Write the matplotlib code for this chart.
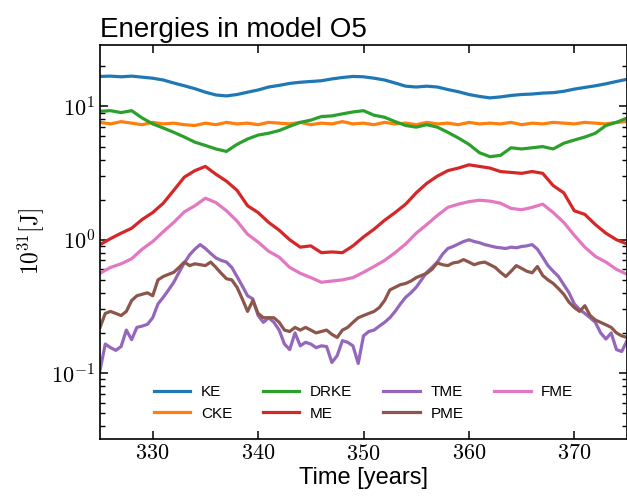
import numpy as np
import matplotlib
matplotlib.use("Agg")
import matplotlib.pyplot as plt

# Data (units of 1e31 J)
#-------------------------------------------
years = np.arange(325, 376, 1.0)
years_fine = np.arange(325, 375.5, 0.5)

ke = [16.8, 16.9, 16.7, 16.9, 16.6, 16.3, 15.8, 15.0, 14.3, 13.6,
      12.8, 12.2, 12.0, 12.3, 12.8, 13.3, 14.0, 14.4, 14.9, 15.2,
      15.4, 15.6, 16.1, 16.5, 16.8, 16.7, 16.3, 15.8, 15.0, 14.2,
      14.0, 14.2, 14.0, 13.4, 12.9, 12.3, 11.9, 11.6, 11.8, 12.1,
      12.3, 12.4, 12.6, 12.7, 13.0, 13.5, 13.9, 14.3, 14.8, 15.4,
      16.0]

cke = [7.6, 7.4, 7.7, 7.5, 7.3, 7.6, 7.4, 7.5, 7.3, 7.2,
       7.5, 7.3, 7.6, 7.4, 7.5, 7.3, 7.6, 7.5, 7.4, 7.6,
       7.3, 7.5, 7.4, 7.7, 7.4, 7.5, 7.3, 7.6, 7.4, 7.5,
       7.3, 7.6, 7.4, 7.5, 7.3, 7.6, 7.4, 7.5, 7.4, 7.6,
       7.3, 7.5, 7.4, 7.6, 7.5, 7.4, 7.6, 7.5, 7.4, 7.6,
       7.7]

drke = [9.2, 9.3, 9.0, 9.3, 8.2, 7.4, 6.9, 6.4, 5.9, 5.4,
        5.1, 4.8, 4.6, 5.2, 5.7, 6.1, 6.3, 6.6, 7.1, 7.6,
        7.9, 8.4, 8.5, 8.8, 9.1, 9.3, 8.6, 8.3, 7.7, 7.2,
        7.0, 7.3, 7.0, 6.4, 5.8, 5.2, 4.5, 4.2, 4.3, 4.9,
        4.8, 4.9, 5.0, 4.8, 5.3, 5.6, 5.9, 6.3, 7.2, 7.6,
        8.2]

me = [0.92, 1.02, 1.12, 1.22, 1.42, 1.6, 1.88, 2.35, 2.95, 3.3,
      3.55, 3.1, 2.75, 2.35, 1.8, 1.6, 1.35, 1.18, 1.0, 0.88,
      0.9, 0.8, 0.81, 0.8, 0.9, 1.05, 1.2, 1.4, 1.6, 1.85,
      2.25, 2.65, 3.0, 3.3, 3.45, 3.65, 3.55, 3.45, 3.25, 3.2,
      3.15, 3.25, 3.15, 2.55, 2.25, 1.65, 1.55, 1.3, 1.12, 1.0,
      0.93]

fme = [0.56, 0.62, 0.66, 0.72, 0.85, 0.97, 1.15, 1.35, 1.62, 1.8,
       2.05, 1.9, 1.65, 1.38, 1.1, 0.96, 0.82, 0.74, 0.62, 0.56,
       0.52, 0.48, 0.49, 0.5, 0.52, 0.57, 0.63, 0.7, 0.8, 0.93,
       1.12, 1.3, 1.52, 1.75, 1.85, 1.93, 1.98, 1.95, 1.88, 1.72,
       1.68, 1.75, 1.85, 1.6, 1.35, 1.08, 0.88, 0.75, 0.68, 0.6,
       0.55]

# half-year sampling for the wigglier toroidal / poloidal parts
tme = [0.105, 0.165, 0.155, 0.148, 0.158, 0.21, 0.178, 0.22, 0.225, 0.232,
       0.26, 0.33, 0.37, 0.42, 0.48, 0.57, 0.67, 0.77, 0.85, 0.92,
       0.86, 0.79, 0.73, 0.70, 0.68, 0.62, 0.53, 0.45, 0.38, 0.36,
       0.27, 0.24, 0.26, 0.24, 0.21, 0.165, 0.15, 0.20, 0.16, 0.17,
       0.165, 0.155, 0.16, 0.158, 0.12, 0.135, 0.175, 0.17, 0.16, 0.118,
       0.19, 0.205, 0.21, 0.225, 0.24, 0.26, 0.29, 0.33, 0.37, 0.40,
       0.44, 0.50, 0.57, 0.62, 0.68, 0.78, 0.86, 0.89, 0.93, 0.97,
       1.0, 0.97, 0.95, 0.92, 0.90, 0.88, 0.87, 0.86, 0.88, 0.87,
       0.89, 0.90, 0.92, 0.85, 0.74, 0.64, 0.58, 0.53, 0.46, 0.40,
       0.33, 0.30, 0.28, 0.26, 0.24, 0.20, 0.18, 0.20, 0.15, 0.145,
       0.175]

pme = [0.22, 0.28, 0.29, 0.28, 0.27, 0.29, 0.35, 0.38, 0.39, 0.40,
       0.38, 0.50, 0.53, 0.55, 0.57, 0.62, 0.68, 0.64, 0.66, 0.65,
       0.64, 0.68, 0.62, 0.56, 0.51, 0.50, 0.44, 0.36, 0.29, 0.35,
       0.28, 0.26, 0.26, 0.26, 0.24, 0.21, 0.205, 0.22, 0.21, 0.22,
       0.21, 0.20, 0.205, 0.21, 0.195, 0.185, 0.21, 0.22, 0.24, 0.26,
       0.27, 0.28, 0.29, 0.31, 0.35, 0.42, 0.44, 0.46, 0.47, 0.49,
       0.52, 0.54, 0.56, 0.60, 0.67, 0.65, 0.64, 0.67, 0.68, 0.71,
       0.68, 0.65, 0.67, 0.68, 0.65, 0.62, 0.57, 0.53, 0.58, 0.64,
       0.61, 0.58, 0.565, 0.63, 0.54, 0.50, 0.47, 0.43, 0.39, 0.34,
       0.31, 0.29, 0.32, 0.27, 0.25, 0.24, 0.23, 0.22, 0.20, 0.19,
       0.185]

# Style
#-------------------------------------------
plt.rcParams['font.family'] = 'serif'
plt.rcParams['font.serif'] = ['cmr10']
plt.rcParams['mathtext.fontset'] = 'cm'
plt.rcParams['axes.formatter.use_mathtext'] = True
plt.rcParams['axes.unicode_minus'] = True
sans = 'Liberation Sans'

fig = plt.figure(figsize=(6.27, 5.04), dpi=100)
ax = fig.add_axes([0.1595, 0.129, 0.8405, 0.782])

lw = 2.3
ax.plot(years, ke, lw=lw, color='C0', label='KE')
ax.plot(years, cke, lw=lw, color='C1', label='CKE')
ax.plot(years, drke, lw=lw, color='C2', label='DRKE')
ax.plot(years, me, lw=lw, color='C3', label='ME')
ax.plot(years_fine, tme, lw=lw, color='C4', label='TME')
ax.plot(years_fine, pme, lw=lw, color='C5', label='PME')
ax.plot(years, fme, lw=lw, color='C6', label='FME')

ax.set_yscale('log')
ax.set_xlim(325, 375)
ax.set_ylim(0.032, 29)
ax.set_xticks([330, 340, 350, 360, 370])

ax.tick_params(which='both', direction='in', top=True, right=True, labelsize=16)
ax.tick_params(which='major', length=6, width=1.1)
ax.tick_params(which='minor', length=3.5, width=1.0)
ax.tick_params(axis='x', which='minor', bottom=False, top=False)
for s in ax.spines.values():
    s.set_linewidth(1.2)

ax.set_xlabel('Time [years]', family=sans, fontsize=17, labelpad=2)
ax.set_ylabel(r'$10^{31}[\mathrm{J}]$', fontsize=17)
ax.set_title('Energies in model O5', loc='left', family=sans, fontsize=20, pad=6)

ax.legend(ncol=4, loc='lower center', frameon=False, handlelength=2.4,
          handletextpad=0.7, borderaxespad=0.8, prop={'family': sans, 'size': 11})

fig.savefig('out.png', dpi=100)
